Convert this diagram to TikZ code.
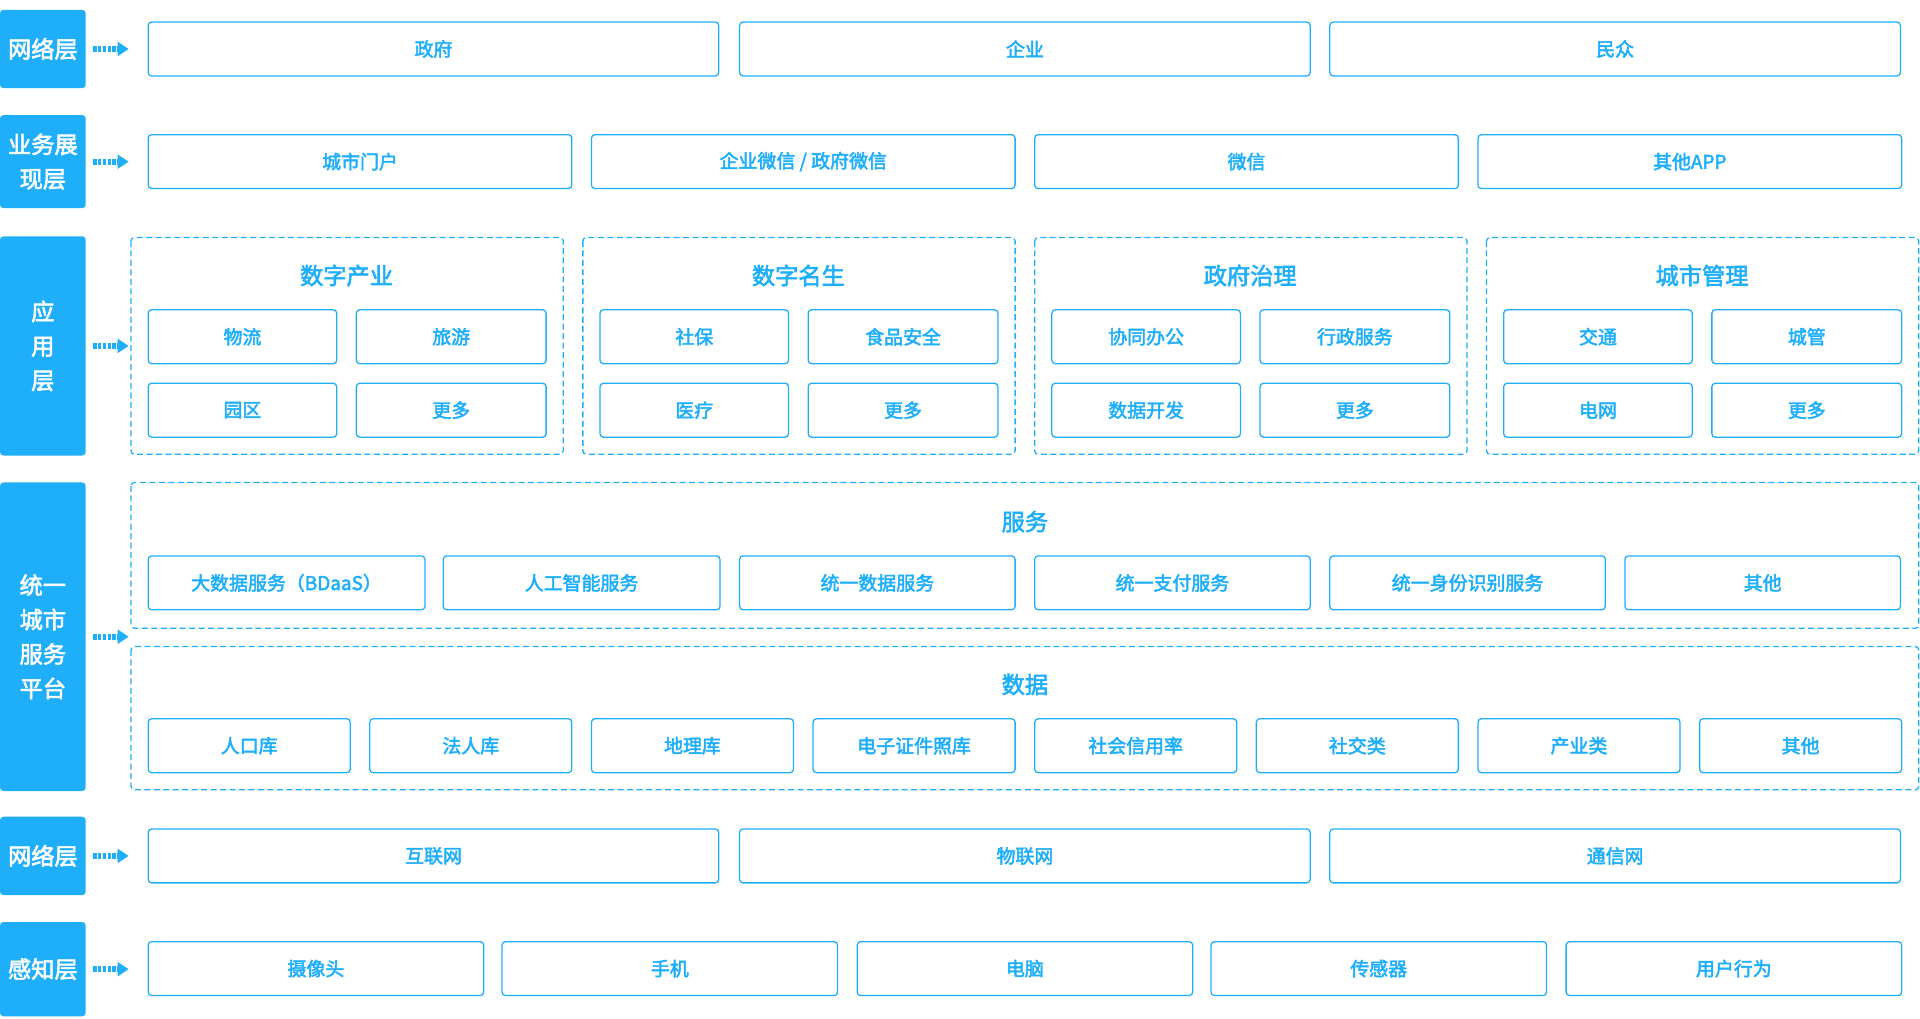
\documentclass[tikz,border=0pt]{standalone}
\usepackage{fontspec}
\setmainfont{Noto Sans CJK SC}[AutoFakeBold=2.5]
\definecolor{mb}{RGB}{30,174,250}
\begin{document}
\begin{tikzpicture}[x=0.05cm,y=-0.05cm,
  bx/.style={draw=mb,line width=1.5pt,rounded corners=4pt,text=mb,font=\bfseries\fontsize{22}{26}\selectfont,inner sep=0pt},
  grp/.style={draw=mb,line width=1.5pt,dash pattern=on 7pt off 4pt,rounded corners=4pt},
  ttl/.style={text=mb,font=\bfseries\fontsize{27}{30}\selectfont}]
\useasboundingbox (0,0) rectangle (1568,832);
\newcommand\lbl[4]{\fill[mb,rounded corners=4pt] (0,#1) rectangle (70,#2);
  \node[text=white,font=\bfseries\fontsize{27}{40}\selectfont,align=center] (#4) at (35,{(#1+#2)/2}) {#3};
  \draw[mb,line width=7pt,dash pattern=on 4pt off 1.6pt] (76,{(#1+#2)/2}) -- (96,{(#1+#2)/2});
  \fill[mb] (96,{(#1+#2)/2-6}) -- (105,{(#1+#2)/2}) -- (96,{(#1+#2)/2+6}) -- cycle;}
\newcommand\bxx[6]{\node[bx,minimum width={((#3)-(#2))*0.05cm},minimum height={((#5)-(#4))*0.05cm}] (#1) at ({((#2)+(#3))/2},{((#4)+(#5))/2}) {#6};}
% labels
\lbl{8}{72}{网络层}{l1}
\lbl{94}{170}{业务展\\现层}{l2}
\lbl{193}{372}{应\\用\\层}{l3}
\lbl{394}{646}{统一\\城市\\服务\\平台}{l4}
\lbl{667}{731}{网络层}{l5}
\lbl{753}{830}{感知层}{l6}
% row1
\bxx{a1}{121}{587}{18}{62}{政府}
\bxx{a2}{604}{1070}{18}{62}{企业}
\bxx{a3}{1086}{1552}{18}{62}{民众}
% row2
\bxx{b1}{121}{467}{110}{154}{城市门户}
\bxx{b2}{483}{829}{110}{154}{企业微信 / 政府微信}
\bxx{b3}{845}{1191}{110}{154}{微信}
\bxx{b4}{1207}{1553}{110}{154}{其他APP}
% row3 groups
\foreach \x/\t/\p/\q/\r/\s [count=\i] in {107/数字产业/物流/旅游/园区/更多,476/数字名生/社保/食品安全/医疗/更多,845/政府治理/协同办公/行政服务/数据开发/更多,1214/城市管理/交通/城管/电网/更多}{
  \draw[grp] (\x,194) rectangle (\x+353,371);
  \node[ttl] (g\i) at (\x+176,225) {\t};
  \bxx{g\i a}{\x+14}{\x+168}{253}{297}{\p}
  \bxx{g\i b}{\x+184}{\x+339}{253}{297}{\q}
  \bxx{g\i c}{\x+14}{\x+168}{313}{357}{\r}
  \bxx{g\i d}{\x+184}{\x+339}{313}{357}{\s}
}
% row4
\draw[grp] (107,394) rectangle (1567,513);
\node[ttl] (sv) at (837,426) {服务};
\foreach \a/\b/\t [count=\i] in {121/347/大数据服务（BDaaS）,362/588/人工智能服务,604/829/统一数据服务,845/1070/统一支付服务,1086/1311/统一身份识别服务,1327/1552/其他}{
  \bxx{s\i}{\a}{\b}{454}{498}{\t}}
\draw[grp] (107,528) rectangle (1567,645);
\node[ttl] (dt) at (837,559) {数据};
\foreach \a/\b/\t [count=\i] in {121/286/人口库,302/467/法人库,483/648/地理库,664/829/电子证件照库,845/1010/社会信用率,1026/1191/社交类,1207/1372/产业类,1388/1553/其他}{
  \bxx{d\i}{\a}{\b}{587}{631}{\t}}
% row5
\bxx{n1}{121}{587}{677}{721}{互联网}
\bxx{n2}{604}{1070}{677}{721}{物联网}
\bxx{n3}{1086}{1552}{677}{721}{通信网}
% row6
\foreach \a/\b/\t [count=\i] in {121/395/摄像头,410/684/手机,700/974/电脑,989/1263/传感器,1279/1553/用户行为}{
  \bxx{p\i}{\a}{\b}{769}{813}{\t}}
\end{tikzpicture}
\end{document}
